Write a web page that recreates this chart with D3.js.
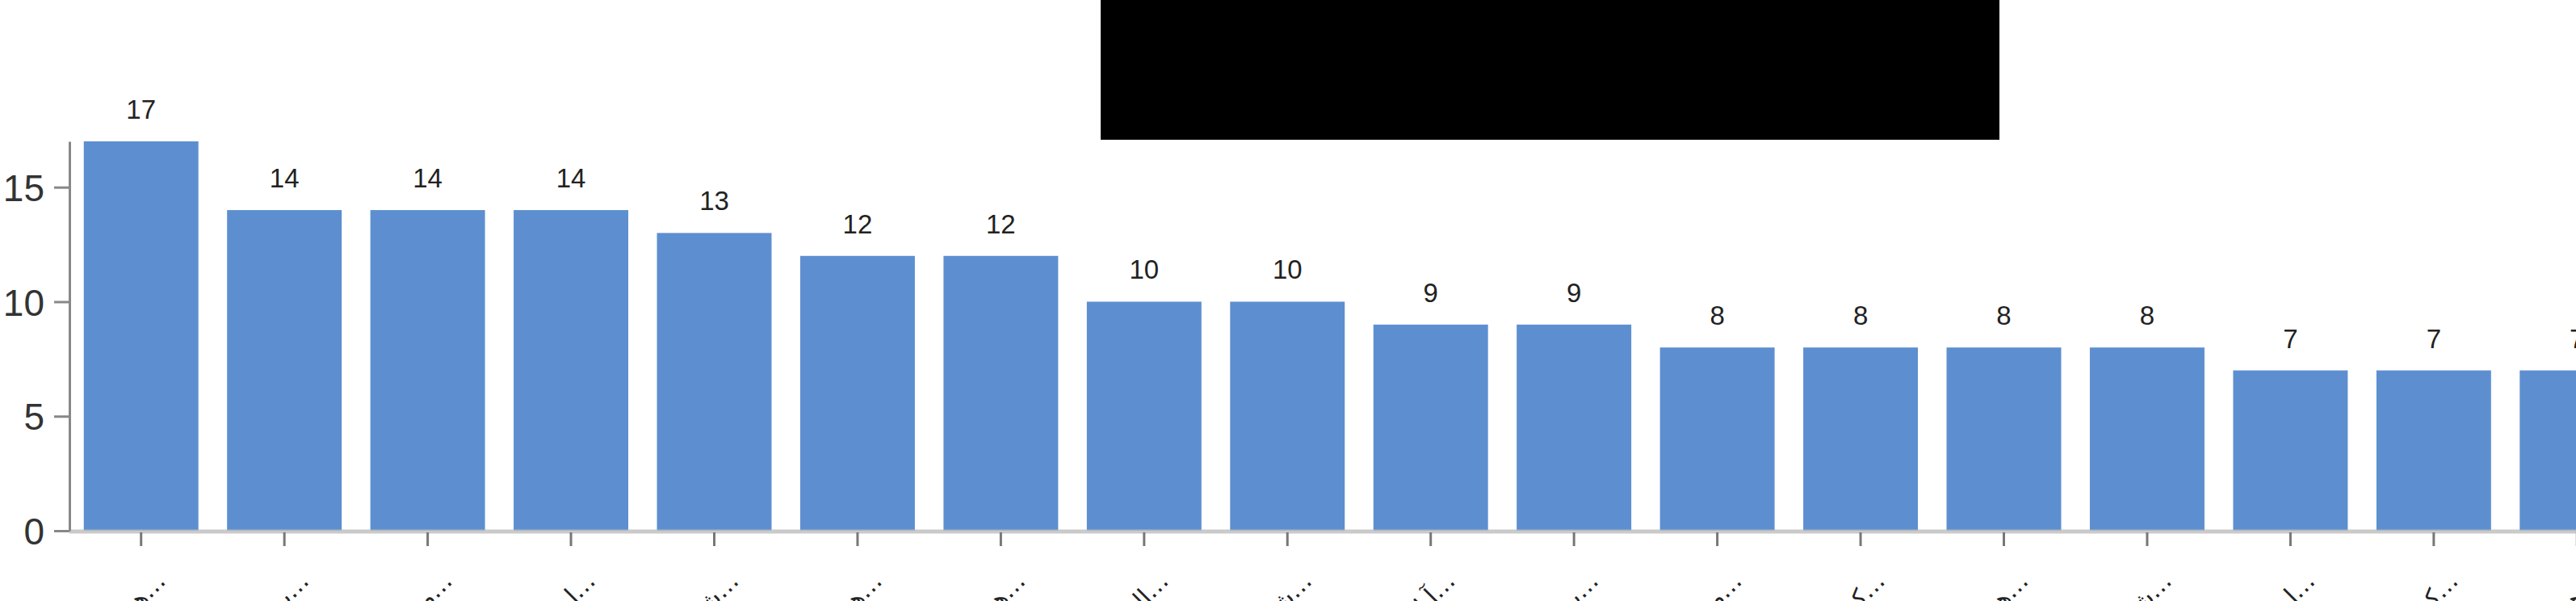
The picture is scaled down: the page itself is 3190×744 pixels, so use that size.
<!DOCTYPE html>
<html lang="en">
<head>
    <meta charset="UTF-8">
    <title>Bar chart</title>
    <script src="https://d3js.org/d3.v7.min.js"></script>
    <style>
        body{
            margin: 0;
            background: #fff;
            overflow: hidden;
        }
        .value_label{
            font-family: "Liberation Sans", sans-serif;
            font-size: 33px;
            fill: #222;
        }
        .y_axis text{
            font-family: "Liberation Sans", sans-serif;
            font-size: 46px;
            fill: #333;
        }
        .x_axis text{
            font-family: "DejaVu Sans", sans-serif;
            font-size: 30px;
            fill: #222;
        }
    </style>
</head>
<body>
<svg id="chart" width="3190" height="744"></svg>

<script>
    // categories (names are cut off in the picture, only their ends show)
    const categories = ["همدان…", "بمپور…", "مشهد…", "اردبیل…", "شهرکرد…", "هرمزگان…",
        "همدان غرب…", "الیگودرز…", "شیراز…", "آبادان…", "پیرانشهر…", "مریوان…",
        "کرمان…", "هشترود…", "شوشتر…", "اراک…", "کرج…", "هرسین…"];
    const counts = [17, 14, 14, 14, 13, 12, 12, 10, 10, 9, 9, 8, 8, 8, 8, 7, 7, 7];
    const yTicks = [0, 5, 10, 15];

    const svg = d3.select("#chart");

    const x0 = 86, y0 = 657, yTop = 175;

    // the chart runs on past the right edge of the window
    const x = d3.scaleBand()
        .domain(categories)
        .range([x0, 3280])
        .paddingInner(0.2)
        .paddingOuter(0.1);

    const y = d3.scaleLinear()
        .domain([0, d3.max(counts)])
        .range([y0, yTop]);

    const data = categories.map((c, i) => ({name: c, value: counts[i]}));

    // bars
    svg.append("g")
        .selectAll("rect")
        .data(data)
        .enter()
        .append("rect")
        .attr("x", d => x(d.name))
        .attr("y", d => y(d.value))
        .attr("width", x.bandwidth())
        .attr("height", d => y0 - y(d.value))
        .attr("fill", "#5d8fd0");

    // value labels
    svg.append("g")
        .selectAll("text")
        .data(data)
        .enter()
        .append("text")
        .attr("class", "value_label")
        .attr("x", d => x(d.name) + x.bandwidth() / 2)
        .attr("y", d => y(d.value) - 28)
        .attr("text-anchor", "middle")
        .text(d => d.value);

    // baseline
    svg.append("line")
        .attr("x1", x0).attr("x2", 3190)
        .attr("y1", y0 + 1).attr("y2", y0 + 1)
        .attr("stroke", "#bdbdbd")
        .attr("stroke-opacity", 0.8)
        .attr("stroke-width", 5);

    // y axis
    const yAxis = svg.append("g")
        .attr("class", "y_axis")
        .attr("transform", `translate(${x0},0)`)
        .call(d3.axisLeft(y).tickValues(yTicks).tickSize(19).tickPadding(12).tickSizeOuter(0));
    yAxis.select(".domain").attr("stroke", "#888").attr("stroke-width", 3);
    yAxis.selectAll(".tick line").attr("stroke", "#888").attr("stroke-width", 3);
    yAxis.selectAll(".tick text").attr("dy", "0.36em");

    // x axis
    const xAxis = svg.append("g")
        .attr("class", "x_axis")
        .attr("transform", `translate(0,${y0 + 2})`)
        .call(d3.axisBottom(x).tickSize(17).tickSizeOuter(0));
    xAxis.select(".domain").remove();
    xAxis.selectAll(".tick line").attr("stroke", "#777").attr("stroke-width", 3);
    xAxis.selectAll(".tick text")
        .attr("text-anchor", "end")
        .attr("direction", "ltr")
        .attr("transform", "translate(32,62) rotate(-45)")
        .attr("x", 0).attr("y", 0).attr("dy", 0);

    // covered-up block at the top
    svg.append("rect")
        .attr("x", 1363).attr("y", 0)
        .attr("width", 1113).attr("height", 173)
        .attr("fill", "#000");
</script>
</body>
</html>
